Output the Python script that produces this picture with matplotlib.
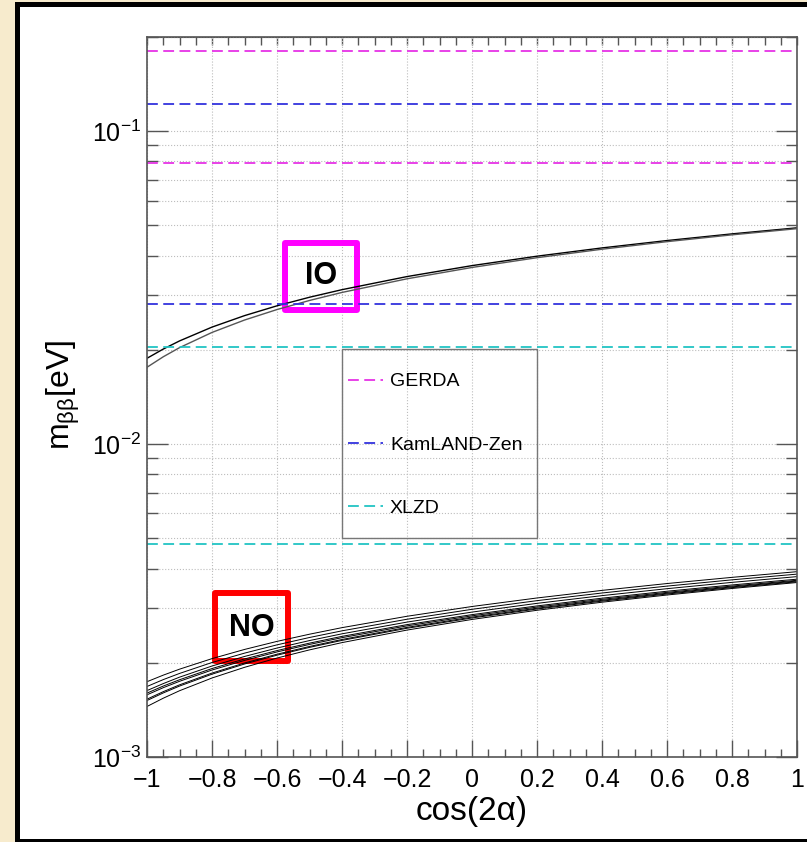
import matplotlib
matplotlib.use("Agg")
import numpy as np
import matplotlib.pyplot as plt
from matplotlib.patches import Rectangle
from matplotlib.ticker import MultipleLocator, LogLocator, NullFormatter, FuncFormatter

plt.rcParams['font.family'] = ['Liberation Sans', 'DejaVu Sans']
plt.rcParams['mathtext.fontset'] = 'custom'
plt.rcParams['mathtext.rm'] = 'Liberation Sans'
plt.rcParams['mathtext.it'] = 'Liberation Sans:italic'
plt.rcParams['mathtext.bf'] = 'Liberation Sans:bold'

# cos(2 alpha) sample points
cos2a = [-1, -0.95, -0.9, -0.8, -0.7, -0.6, -0.5, -0.4, -0.2, 0, 0.2, 0.4, 0.6, 0.8, 1]

# inverted ordering, m_bb in eV
io_upper = [0.01880, 0.02012, 0.02136, 0.02365, 0.02573, 0.02766, 0.02946, 0.03115,
            0.03430, 0.03718, 0.03985, 0.04235, 0.04471, 0.04696, 0.04910]
io_lower = [0.01760, 0.01901, 0.02033, 0.02274, 0.02491, 0.02691, 0.02877, 0.03052,
            0.03374, 0.03668, 0.03941, 0.04195, 0.04435, 0.04663, 0.04880]

# normal ordering, m_bb in meV
no_1 = [1.740, 1.826, 1.908, 2.062, 2.206, 2.341, 2.468, 2.590, 2.816, 3.026, 3.222, 3.407, 3.583, 3.750, 3.910]
no_2 = [1.680, 1.767, 1.849, 2.004, 2.147, 2.282, 2.409, 2.530, 2.755, 2.964, 3.159, 3.342, 3.516, 3.682, 3.840]
no_3 = [1.630, 1.716, 1.799, 1.953, 2.095, 2.229, 2.355, 2.475, 2.698, 2.904, 3.097, 3.278, 3.450, 3.614, 3.770]
no_4 = [1.600, 1.685, 1.765, 1.917, 2.057, 2.188, 2.311, 2.429, 2.648, 2.850, 3.039, 3.217, 3.386, 3.546, 3.700]
no_5 = [1.580, 1.665, 1.745, 1.896, 2.035, 2.166, 2.289, 2.406, 2.624, 2.825, 3.013, 3.190, 3.358, 3.517, 3.670]
no_6 = [1.530, 1.617, 1.700, 1.854, 1.997, 2.130, 2.255, 2.374, 2.595, 2.799, 2.988, 3.167, 3.336, 3.496, 3.650]
no_7 = [1.515, 1.602, 1.685, 1.839, 1.982, 2.115, 2.240, 2.358, 2.578, 2.781, 2.971, 3.148, 3.317, 3.477, 3.630]
no_8 = [1.450, 1.541, 1.628, 1.788, 1.934, 2.071, 2.199, 2.320, 2.544, 2.751, 2.943, 3.123, 3.293, 3.455, 3.610]

# experimental sensitivity bands (eV)
gerda_bounds = [0.079, 0.180]
kamland_bounds = [0.028, 0.122]
xlzd_bounds = [0.0048, 0.0205]
exp_names = ["GERDA", "KamLAND-Zen", "XLZD"]
exp_colors = ["#E633E6", "#3333DD", "#22C4C4"]

fig = plt.figure(figsize=(8.07, 8.42), dpi=100, facecolor="#F7EBCD")
fig.add_artist(Rectangle((0.0186, 0.0), 1.0, 0.99762, transform=fig.transFigure,
                         facecolor="black", edgecolor="none", zorder=-10))
fig.add_artist(Rectangle((0.0248, 0.00356), 1.0, 0.98813, transform=fig.transFigure,
                         facecolor="white", edgecolor="none", zorder=-9))

ax = fig.add_axes([0.1822, 0.1010, 0.8055, 0.8551])
ax.set_yscale("log")
ax.set_xlim(-1, 1)
ax.set_ylim(1e-3, 0.2)
ax.set_axisbelow(True)

ax.plot(cos2a, io_upper, color="black", lw=1.0)
ax.plot(cos2a, io_lower, color="#555555", lw=1.0)
for curve in [no_1, no_2, no_3, no_4, no_5, no_6, no_7, no_8]:
    ax.plot(cos2a, np.array(curve) * 1e-3, color="black", lw=0.7)

handles = []
for bounds, name, col in zip([gerda_bounds, kamland_bounds, xlzd_bounds], exp_names, exp_colors):
    ln = None
    for b in bounds:
        ln = ax.axhline(b, color=col, lw=1.3, dashes=(6, 3))
    handles.append(ln)

# grid
ax.grid(which="major", axis="x", ls=":", color="#bdbdbd", lw=0.8)
ax.grid(which="both", axis="y", ls=":", color="#bdbdbd", lw=0.8)

# ticks
ax.xaxis.set_major_locator(MultipleLocator(0.2))
ax.xaxis.set_minor_locator(MultipleLocator(0.05))
ax.xaxis.set_major_formatter(FuncFormatter(lambda v, p: f"{round(v, 2) + 0:g}".replace("-", "\u2212")))
ax.yaxis.set_major_locator(LogLocator(base=10))
ax.yaxis.set_minor_locator(LogLocator(base=10, subs=np.arange(2, 10)))
ax.yaxis.set_minor_formatter(NullFormatter())

ax.tick_params(axis="both", which="both", direction="in", color="#555555", labelcolor="black")
ax.tick_params(axis="x", which="major", length=12, width=1, top=False, pad=8, labelsize=18)
ax.tick_params(axis="x", which="minor", length=6, width=1, top=False)
ax.tick_params(axis="y", which="major", length=15, width=1, right=True, pad=4, labelsize=18)
ax.tick_params(axis="y", which="minor", length=8, width=1, right=True)

sec = ax.secondary_xaxis("top")
sec.xaxis.set_major_locator(MultipleLocator(0.2))
sec.xaxis.set_minor_locator(MultipleLocator(0.05))
sec.tick_params(axis="x", which="both", direction="in", length=6, width=1,
                color="#555555", labeltop=False)
sec.spines["top"].set_color("#555555")

for sp in ax.spines.values():
    sp.set_color("#555555")
    sp.set_linewidth(1.2)

ax.set_xlabel("cos(2\u03b1)", fontsize=24, va="top")
ax.xaxis.set_label_coords(0.5, -0.054)
ax.set_ylabel("m$_{\\mathrm{\u03b2\u03b2}}$[eV]", fontsize=23)
ax.yaxis.set_label_coords(-0.100, 0.503)

# legend
ax.add_patch(Rectangle((0.3, 0.3042), 0.3, 0.2625, transform=ax.transAxes,
                       fill=False, edgecolor="#777777", lw=1))
ax.legend(handles, exp_names, loc="upper left", bbox_to_anchor=(0.3092, 0.5337),
          bbox_transform=ax.transAxes, frameon=False, fontsize=14, borderpad=0,
          borderaxespad=0, handlelength=1.8, handletextpad=0.36, labelspacing=2.35)

# ordering labels
ax.add_patch(Rectangle((0.2123, 0.6208), 0.1108, 0.0931, transform=ax.transAxes,
                       fill=False, edgecolor="#FF00FF", lw=4.3, joinstyle="round"))
ax.text(0.2677, 0.6674, "IO", transform=ax.transAxes, fontsize=22, fontweight="bold",
        ha="center", va="center")
ax.add_patch(Rectangle((0.1046, 0.1333), 0.1123, 0.0945, transform=ax.transAxes,
                       fill=False, edgecolor="#FF0000", lw=4.3, joinstyle="round"))
ax.text(0.1608, 0.1790, "NO", transform=ax.transAxes, fontsize=22, fontweight="bold",
        ha="center", va="center")

fig.savefig("out.png", dpi=100, facecolor=fig.get_facecolor())
